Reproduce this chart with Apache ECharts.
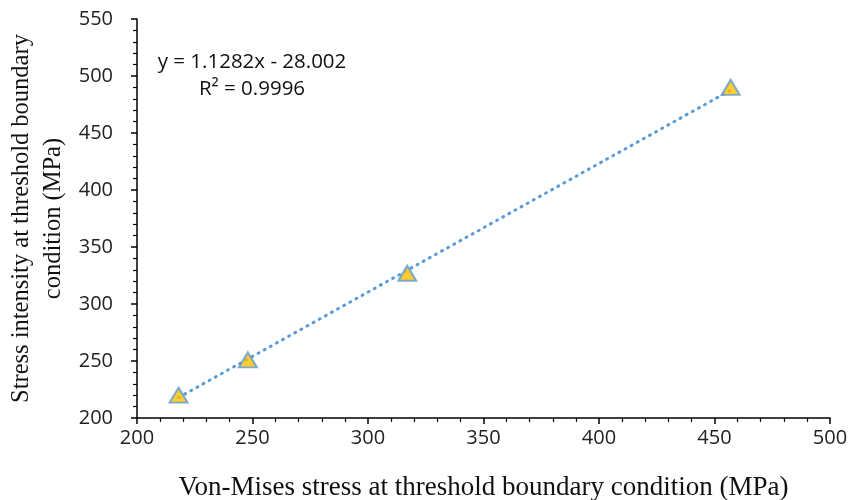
<!DOCTYPE html>
<html>
<head>
<meta charset="utf-8">
<script src="https://cdn.jsdelivr.net/npm/echarts@6/dist/echarts.min.js"></script>
<style>
  html, body { margin: 0; padding: 0; background: #fff; }
  #chart { width: 850px; height: 500px; }
</style>
</head>
<body>
<div id="chart"></div>
<script>
// measured points
const vonMises = [218, 248, 317, 457]
const stressIntensity = [220, 251, 327, 490]

// linear trendline as printed on the chart
const slope = 1.1282
const intercept = -28.002
const rSquared = '0.9996'

const xTicks = { min: 200, max: 500, interval: 50 }
const yTicks = { min: 200, max: 550, interval: 50 }

const points = vonMises.map((x, i) => [x, stressIntensity[i]])
const xFirst = Math.min(...vonMises)
const xLast = Math.max(...vonMises)
const trend = [xFirst, xLast].map(x => [x, slope * x + intercept])

const chart = echarts.init(document.getElementById('chart'))

const axisCommon = {
  type: 'value',
  axisLine: { show: true, lineStyle: { color: '#000', width: 1.5 } },
  axisTick: { show: true, inside: false, length: 6, lineStyle: { color: '#000', width: 1.5 } },
  minorTick: { show: true, splitNumber: 5, length: 4, lineStyle: { color: '#000', width: 1.2 } },
  splitLine: { show: false },
  axisLabel: { color: '#222', fontSize: 20, fontFamily: 'Open Sans' },
  nameLocation: 'middle',
  nameMoveOverlap: false
}

chart.setOption({
  animation: false,
  grid: { left: 137, right: 20, top: 19, bottom: 82, outerBoundsMode: 'none', containLabel: false },
  xAxis: {
    ...axisCommon,
    ...xTicks,
    axisLabel: { ...axisCommon.axisLabel, margin: 10 },
    name: 'Von-Mises stress at threshold boundary condition (MPa)',
    nameGap: 56,
    nameTextStyle: { color: '#111', fontSize: 27, fontFamily: 'Liberation Serif' }
  },
  yAxis: {
    ...axisCommon,
    ...yTicks,
    axisLabel: { ...axisCommon.axisLabel, margin: 24 },
    name: 'Stress intensity at threshold boundary\ncondition (MPa)',
    nameGap: 67,
    nameTextStyle: { color: '#111', fontSize: 24.5, fontFamily: 'Liberation Serif', lineHeight: 32 }
  },
  graphic: [
    {
      type: 'text',
      x: 252,
      y: 76,
      style: {
        text: 'y = ' + slope + 'x - ' + Math.abs(intercept).toFixed(3) + '\nR² = ' + rSquared,
        align: 'center',
        verticalAlign: 'middle',
        fill: '#111',
        fontSize: 20.5,
        fontFamily: 'Open Sans',
        lineHeight: 27
      }
    }
  ],
  series: [
    {
      type: 'line',
      data: trend,
      symbol: 'none',
      lineStyle: { color: '#5B9BD5', width: 3, type: [1, 6], cap: 'round' },
      z: 1
    },
    {
      type: 'scatter',
      data: points,
      symbol: 'triangle',
      symbolSize: [18, 15],
      itemStyle: { color: '#FFC000', borderColor: '#5B9BD5', borderWidth: 2 },
      z: 2
    }
  ]
})
</script>
</body>
</html>
